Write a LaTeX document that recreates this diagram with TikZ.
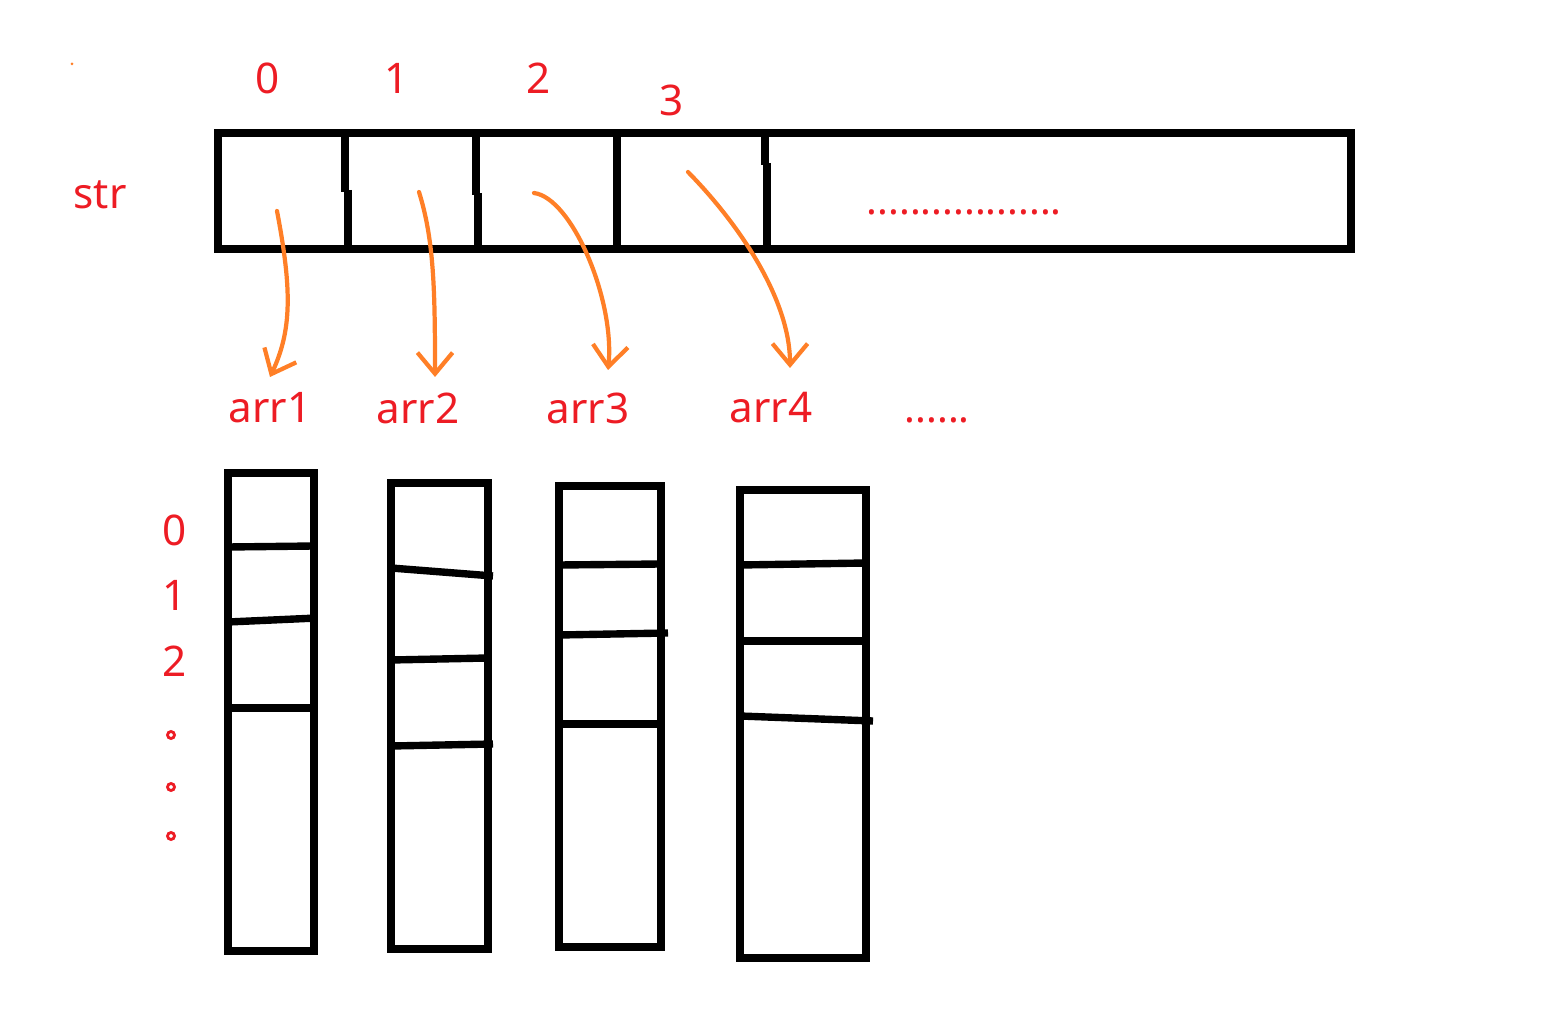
\documentclass[tikz,border=0pt]{standalone}
\usepackage{fontspec}
\setmainfont{Noto Sans}
\usetikzlibrary{arrows.meta}
\definecolor{pred}{RGB}{237,28,36}
\definecolor{porange}{RGB}{255,127,39}
\tikzset{
  box/.style={line width=2.3pt, black},
  col/.style={line width=2.1pt, black},
  lbl/.style={text=pred, font=\fontsize{12}{14}\selectfont, inner sep=0pt},
  dotlbl/.style={text=pred, font=\fontsize{11.5}{14}\selectfont, inner sep=0pt, anchor=west},
  ptr/.style={draw=porange, line width=1.2pt, line cap=round, line join=round,
    -{Straight Barb[length=6pt,width=10pt,line width=1.2pt]}},
  ring/.style={draw=pred, line width=0.8pt}
}
\begin{document}
\begin{tikzpicture}[x=0.01cm,y=-0.01cm]
\useasboundingbox (0,0) rectangle (1543,1031);
% tiny orange speck
\fill[porange] (72,64) circle (1.5);
% index labels above the bar
\node[lbl] (i0) at (268,78) {0};
\node[lbl] (i1) at (397,78) {1};
\node[lbl] (i2) at (539,78) {2};
\node[lbl] (i3) at (672,100) {3};
\node[lbl] (str) at (100,195) {str};
% the str bar
\draw[box] (218,133) rectangle (1351,249);
\draw[box] (345,133) -- (345,192);
\draw[box] (348,190) -- (348,249);
\draw[box] (476,133) -- (476,195);
\draw[box] (478,193) -- (478,249);
\draw[box] (617,133) -- (617,249);
\draw[box] (765,133) -- (765,165);
\draw[box] (767,163) -- (767,249);
\node[dotlbl] (bardots) at (866,212) {..................};
% arr labels
\node[lbl] (arr1) at (270,408) {arr1};
\node[lbl] (arr2) at (418,408) {arr2};
\node[lbl] (arr3) at (588,408) {arr3};
\node[lbl] (arr4) at (771,408) {arr4};
\node[dotlbl] (moredots) at (904,420) {......};
% pointer arrows
\coordinate (s1) at (277,211);
\coordinate (t1) at (270,377);
\coordinate (s2) at (419,192);
\coordinate (t2) at (435,377);
\coordinate (s3) at (534,193);
\coordinate (t3) at (608,370);
\coordinate (s4) at (688,172);
\coordinate (t4) at (790,368);
\draw[ptr] (s1) .. controls (292,290) and (292,330) .. (t1);
\draw[ptr] (s2) .. controls (434,240) and (435,290) .. (t2);
\draw[ptr] (s3) .. controls (572,198) and (615,300) .. (t3);
\draw[ptr] (s4) .. controls (740,225) and (790,300) .. (t4);
% left index labels
\node[lbl] (r0) at (175,530) {0};
\node[lbl] (r1) at (175,595) {1};
\node[lbl] (r2) at (175,661) {2};
\draw[ring] (171,735) circle (3.5);
\draw[ring] (171,787) circle (3.5);
\draw[ring] (171,836) circle (3.5);
% column arrays
\draw[col] (228,473) rectangle (314,951);
\draw[col] (228,547) -- (314,546);
\draw[col] (228,622) -- (317,618);
\draw[col] (228,708) -- (314,708);
\draw[col] (391,483) rectangle (488,949);
\draw[col] (391,568) -- (493,576);
\draw[col] (391,660) -- (488,658);
\draw[col] (391,746) -- (493,744);
\draw[col] (559,486) rectangle (661,947);
\draw[col] (559,565) -- (661,564);
\draw[col] (559,635) -- (668,633);
\draw[col] (559,724) -- (661,724);
\draw[col] (740,490) rectangle (866,958);
\draw[col] (740,565) -- (866,563);
\draw[col] (740,641) -- (866,641);
\draw[col] (740,716) -- (873,721);
\end{tikzpicture}
\end{document}
